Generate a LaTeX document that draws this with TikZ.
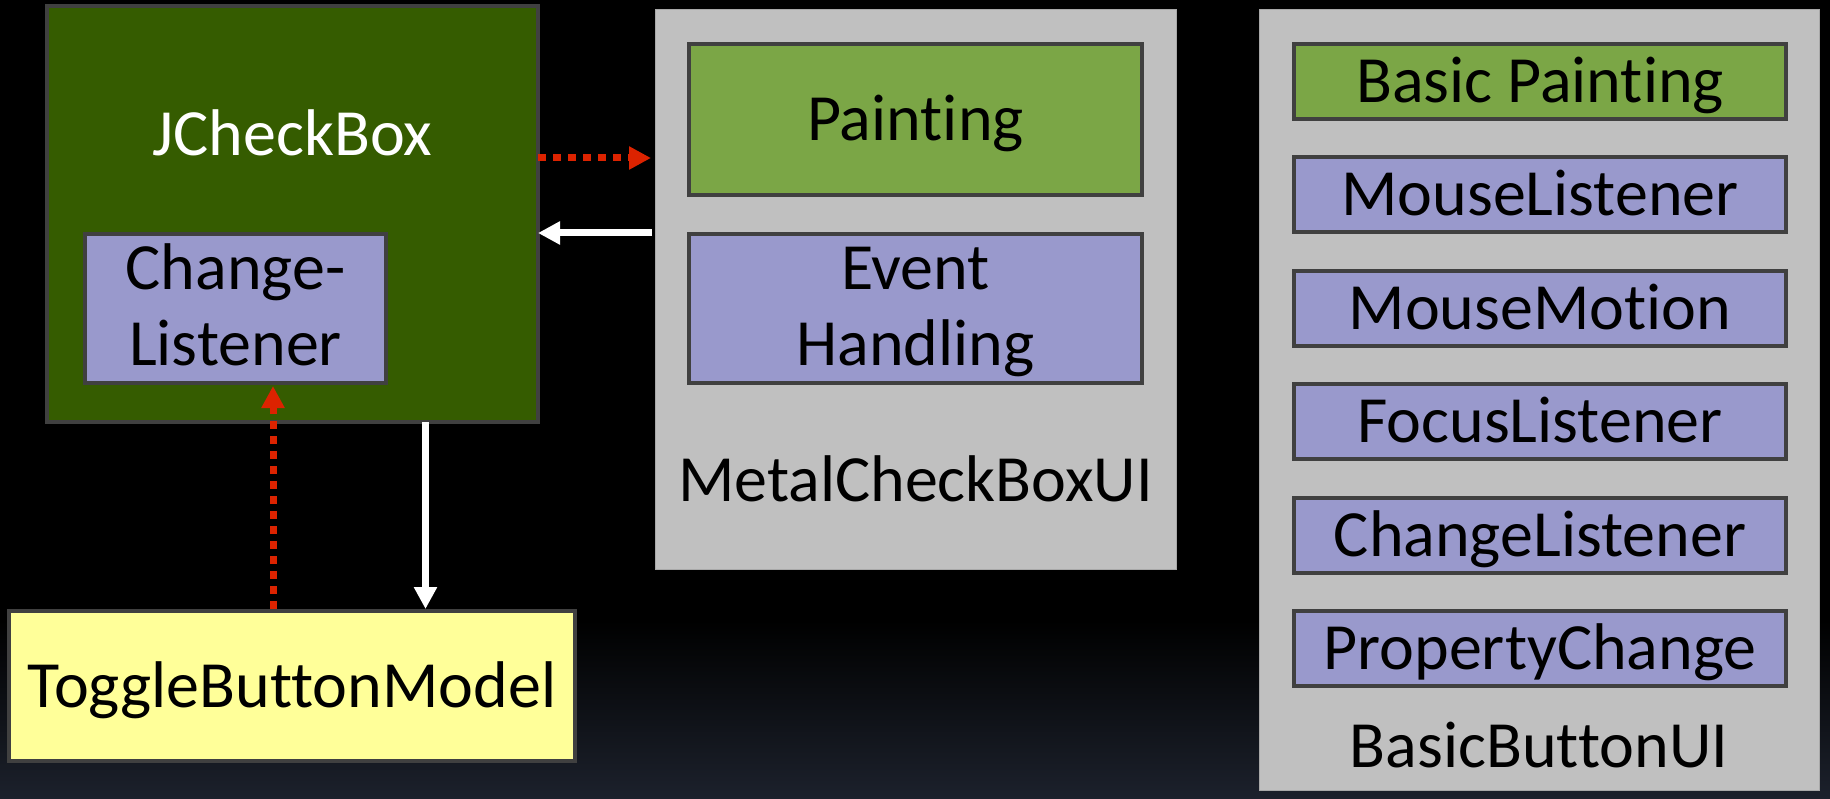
\documentclass[tikz,border=0pt]{standalone}
\usepackage{fontspec}
\setmainfont{Carlito}[RawFeature={-liga;-clig;-dlig;-rlig;-calt}]
\usetikzlibrary{arrows.meta,calc}
\definecolor{bordergray}{HTML}{404040}
\definecolor{darkgreen}{HTML}{355C00}
\definecolor{lav}{HTML}{9999CC}
\definecolor{paintgreen}{HTML}{7BA646}
\definecolor{panelgray}{HTML}{C0C0C0}
\definecolor{panelborder}{HTML}{A8A8A8}
\definecolor{yellowfill}{HTML}{FFFF99}
\definecolor{arrowred}{HTML}{DC2300}
\definecolor{bgnavy}{HTML}{1C212C}
\newcommand{\nolig}{\kern0pt\relax}
\tikzset{
  bigfont/.style={font=\fontsize{66}{76}\selectfont},
  dbox/.style={draw=bordergray, line width=4pt, inner sep=0pt, outer sep=0pt},
  panel/.style={fill=panelgray, draw=panelborder, line width=1pt, inner sep=0pt, outer sep=0pt},
  lbl/.style={bigfont, inner sep=0pt, outer sep=0pt, anchor=base},
  capbox/.style={dbox, bigfont, text height=42pt, text depth=0pt},
  rowbox/.style={capbox, fill=lav, minimum width=492pt, minimum height=75pt},
  redarrow/.style={draw=arrowred, line width=7pt, dash pattern=on 8pt off 7pt,
     -{Triangle[length=22pt,width=22pt]}},
  whitearrow/.style={draw=white, line width=7pt, -{Triangle[length=22pt,width=22pt]}},
}
\begin{document}
\begin{tikzpicture}[x=1pt,y=-1pt]
\useasboundingbox (0,0) rectangle (1830,799);
\fill[black] (0,0) rectangle (1830,799);
\shade[top color=black, bottom color=bgnavy] (0,620) rectangle (1830,799);

% left: JCheckBox
\node[dbox, fill=darkgreen, minimum width=491pt, minimum height=416pt] (jcb) at (292.5,214) {};
\node[lbl, text=white] (jcbtext) at (292.5,156) {JCheckBox};
\node[dbox, fill=lav, minimum width=301pt, minimum height=149pt] (cl) at (235.5,308.5) {};
\node[lbl, align=center] (cltext) at (235.5,365) {Change-\\Listener};

% ToggleButtonModel
\node[dbox, fill=yellowfill, minimum width=566pt, minimum height=150pt] (tbm) at (292,686) {};
\node[lbl] (tbmtext) at (292,707) {ToggleButtonModel};

% MetalCheckBoxUI
\node[panel, minimum width=521pt, minimum height=559pt] (mcb) at (915.5,289.5) {};
\node[capbox, fill=paintgreen, minimum width=453pt, minimum height=151pt] (paint) at (915.5,119.5) {Paint\nolig ing};
\node[dbox, fill=lav, minimum width=453pt, minimum height=149pt] (evh) at (915.5,308.5) {};
\node[lbl, align=center] (evhtext) at (915.5,365) {Event\\Handling};
\node[lbl] (mcbtext) at (915.5,501) {MetalCheckBoxUI};

% BasicButtonUI
\node[panel, minimum width=560pt, minimum height=780pt] (bbu) at (1539,400) {};
\node[capbox, fill=paintgreen, minimum width=492pt, minimum height=75pt] (bp) at (1540,81.5) {Basic Paint\nolig ing};
\node[rowbox] (ml) at (1540,194.9) {MouseListener};
\node[rowbox] (mm) at (1540,308.3) {MouseMot\nolig ion};
\node[rowbox] (fl) at (1540,421.7) {FocusListener};
\node[rowbox] (chl) at (1540,535.1) {ChangeListener};
\node[rowbox] (pc) at (1540,648.5) {PropertyChange};
\node[lbl] (bbutext) at (1539,767) {BasicButtonUI};

% connectors
\coordinate (r1s) at ([yshift=56pt]jcb.east);
\coordinate (mcbL4) at ([xshift=-4pt]mcb.west);
\draw[redarrow] (r1s) -- (r1s -| mcbL4);

\coordinate (w1s) at ([yshift=-19pt]jcb.east);
\coordinate (mcbL3) at ([xshift=-3pt]mcb.west);
\draw[whitearrow] (w1s -| mcbL3) -- (w1s);

\coordinate (w2s) at ([xshift=133pt]jcb.south);
\coordinate (tbmT) at ([yshift=2pt]tbm.north);
\draw[whitearrow] (w2s) -- (w2s |- tbmT);

\coordinate (r2s) at ([xshift=-19pt,yshift=2pt]tbm.north);
\coordinate (clB) at ([yshift=-3pt]cl.south);
\draw[redarrow] (r2s) -- (r2s |- clB);
\end{tikzpicture}
\end{document}
